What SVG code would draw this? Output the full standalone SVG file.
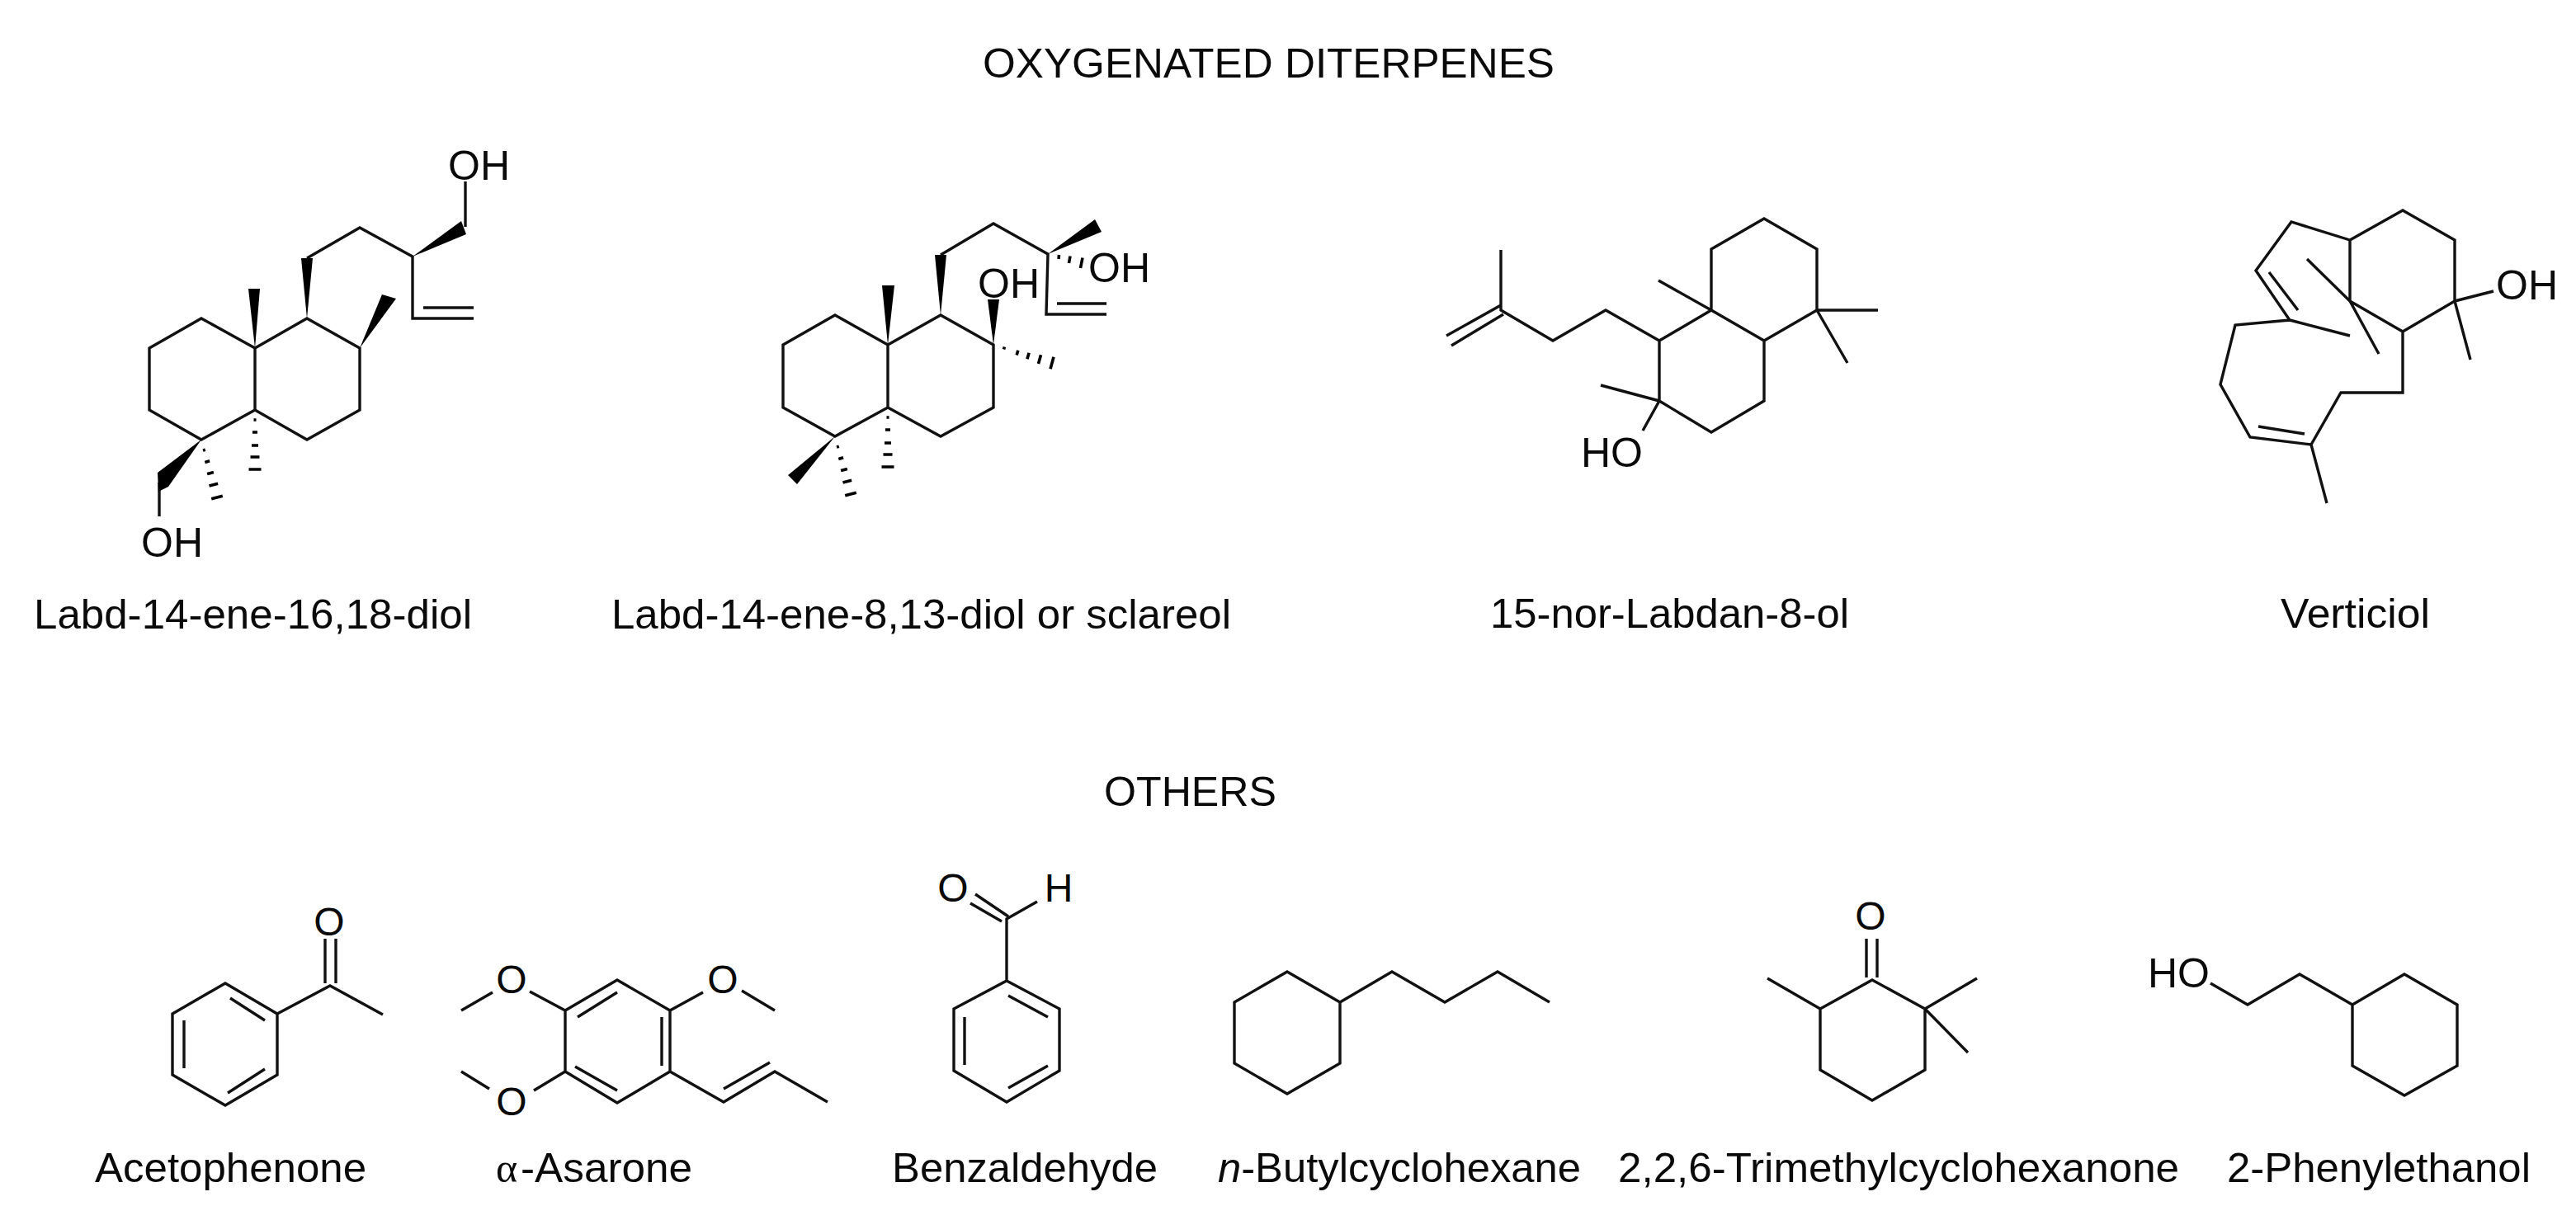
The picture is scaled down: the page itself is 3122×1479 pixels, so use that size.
<svg xmlns="http://www.w3.org/2000/svg" width="3122" height="1479" viewBox="0 0 3122 1479">
<style>
text{font-family:"Liberation Sans",Arial,sans-serif;fill:#0a0a0a}
.t{font-size:50px}
.a{font-size:50px}
.o{font-size:48px}
.b{fill:none;stroke:#111;stroke-width:3.4;stroke-linejoin:miter;stroke-linecap:butt}
.w{fill:#000;stroke:none}
.h{stroke:#000;stroke-width:3.6;fill:none}
</style>
<defs>
<g id="hashV" class="h"><path d="M-1.5 12H1.5M-3 27H3M-4 43H4M-5.5 57H5.5M-7.5 72H7.5"/></g>
<g id="hashD" class="h"><path d="M2 13L4.8 12.2M4.3 27.4L10.1 25.8M7.1 41.6L14.9 39.6M9.5 56L20.1 53.2M12.2 71.8L25.8 68.2"/></g>
</defs>
<rect width="3122" height="1479" fill="#fff"/>
<text id="title-diterpenes" class="t" x="1191" y="94" textLength="693" lengthAdjust="spacingAndGlyphs">OXYGENATED DITERPENES</text>
<text id="title-others" class="t" x="1338" y="977" textLength="209" lengthAdjust="spacingAndGlyphs">OTHERS</text>

<g id="labd-14-ene-16-18-diol">
<path class="b" d="M309 422L244 386L181 422V497L244 533L309 497V422L372 386L436 422V497L372 533L309 497M372 313L436 276L500 311V386H574M513 373H574M564 275V220M193 585V626"/>
<polygon class="w" points="309,422 301,350 315,350"/>
<polygon class="w" points="372,386 365,313 379,313"/>
<polygon class="w" points="500,311 559,268 565,284"/>
<polygon class="w" points="436,422 463,357 480,362"/>
<polygon class="w" points="244,533 191,573 192,596 204,590"/>
<use href="#hashV" x="309" y="497"/>
<use href="#hashD" x="244" y="533"/>
<text class="a" x="543" y="218">OH</text>
<text class="a" x="171" y="675">OH</text>
<text class="t" x="41" y="762" textLength="531" lengthAdjust="spacingAndGlyphs">Labd-14-ene-16,18-diol</text>
</g>

<g id="sclareol">
<path class="b" d="M1076 418L1012 382L949 418V494L1012 529L1076 494V418L1140 382L1204 418V494L1140 529L1076 494M1140 309L1204 271L1270 308L1268 381H1341M1281 368H1341"/>
<polygon class="w" points="1076,418 1069,346 1084,346"/>
<polygon class="w" points="1140,382 1133,309 1147,309"/>
<polygon class="w" points="1270,308 1327,266 1335,281"/>
<polygon class="w" points="1204,418 1197,363 1211,363"/>
<polygon class="w" points="1012,529 955,576 966,587"/>
<path class="h" d="M1283.5 309L1283 314M1297 310.5L1295.5 319M1312 312.5L1309.5 325M1217.4 420.6L1216.6 423.4M1233.8 424.8L1232.2 430.6M1247.1 427.7L1244.9 435.3M1261.5 430.3L1258.5 440.9M1277 432.8L1273 447.2"/>
<use href="#hashV" x="1076" y="494"/>
<use href="#hashD" x="1012" y="529"/>
<text class="a" x="1319" y="342">OH</text>
<text class="a" x="1185" y="361">OH</text>
<text class="t" x="741" y="762" textLength="751" lengthAdjust="spacingAndGlyphs">Labd-14-ene-8,13-diol or sclareol</text>
</g>

<g id="nor-labdan-8-ol">
<path class="b" d="M2138 265L2202 302V376L2138 413L2074 376V302ZM2138 413V486L2074 524L2011 486V413L2074 376L2010 340M2202 376H2276M2202 376L2239 440M2011 413L1946 376L1882 413L1819 376V303M1819 370L1753 407M1822 381L1759 419M2011 486L1940 467M2011 486L1991 522"/>
<text class="a" x="1916" y="566">HO</text>
<text class="t" x="1806" y="761" textLength="435" lengthAdjust="spacingAndGlyphs">15-nor-Labdan-8-ol</text>
</g>

<g id="verticiol">
<path class="b" d="M2848 291L2912 255L2975 291V365L2912 402L2848 365ZM2848 291L2777 269L2734 328L2775 388L2709 394L2691 466L2727 530L2801 539L2837 476H2912V402M2750 330L2785 376M2737 517L2793 526M2775 388L2848 407M2796 314L2848 365L2883 429M2975 365L3022 353M2975 365L2994 436M2801 539L2820 610"/>
<text class="a" x="3025" y="363">OH</text>
<text class="t" x="2764" y="761" textLength="181" lengthAdjust="spacingAndGlyphs">Verticiol</text>
</g>

<g id="acetophenone">
<path class="b" d="M273 1192L336 1229V1303L273 1340L209 1303V1229ZM321 1237L279 1210M223 1237V1295M321 1296L276 1325M336 1229L400 1195L464 1230M394 1192V1138M407 1192V1138"/>
<text class="o" x="399" y="1134" text-anchor="middle">O</text>
<text class="t" x="115" y="1433" textLength="329" lengthAdjust="spacingAndGlyphs">Acetophenone</text>
</g>

<g id="alpha-asarone">
<path class="b" d="M748 1188L812 1225V1299L748 1337L685 1299V1225ZM700 1233L748 1203M802 1233V1292M697 1293L748 1322M685 1225L642 1202M597 1203L559 1225M812 1225L852 1203M899 1201L939 1225M685 1299L647 1322M593 1320L559 1299M812 1299L877 1336L939 1299L1003 1336M877 1320L933 1288"/>
<text class="o" x="620" y="1204" text-anchor="middle">O</text>
<text class="o" x="876" y="1204" text-anchor="middle">O</text>
<text class="o" x="620" y="1352" text-anchor="middle">O</text>
<text x="601" y="1433" style="font-family:'Liberation Serif',serif;font-size:50px">α</text>
<text class="t" x="631" y="1433" textLength="208" lengthAdjust="spacingAndGlyphs">-Asarone</text>
</g>

<g id="benzaldehyde">
<path class="b" d="M1220 1189L1284 1223V1298L1220 1336L1156 1298V1223ZM1270 1233L1222 1207M1169 1233V1291M1270 1292L1222 1319M1220 1189V1114L1257 1093M1222 1111L1182 1084M1214 1117L1176 1095"/>
<text class="o" x="1155" y="1093" text-anchor="middle">O</text>
<text class="o" x="1283" y="1093" text-anchor="middle">H</text>
<text class="t" x="1081" y="1433" textLength="322" lengthAdjust="spacingAndGlyphs">Benzaldehyde</text>
</g>

<g id="n-butylcyclohexane">
<path class="b" d="M1560 1178L1624 1215V1289L1560 1326L1496 1289V1215ZM1624 1215L1687 1178L1751 1215L1815 1178L1878 1215"/>
<text class="t" x="1476" y="1433" textLength="440" lengthAdjust="spacingAndGlyphs"><tspan font-style="italic">n</tspan>-Butylcyclohexane</text>
</g>

<g id="trimethylcyclohexanone">
<path class="b" d="M2269 1188L2333 1223V1297L2269 1334L2206 1297V1223ZM2262 1185V1138M2275 1185V1138M2206 1223L2142 1186M2333 1223L2396 1186M2333 1223L2385 1276"/>
<text class="o" x="2267" y="1127" text-anchor="middle">O</text>
<text class="t" x="1961" y="1433" textLength="680" lengthAdjust="spacingAndGlyphs">2,2,6-Trimethylcyclohexanone</text>
</g>

<g id="phenylethanol">
<path class="b" d="M2914 1181L2978 1218V1292L2914 1328L2851 1292V1218ZM2851 1218L2787 1181L2724 1218L2679 1192"/>
<text class="a" x="2603" y="1197" textLength="75" lengthAdjust="spacingAndGlyphs">HO</text>
<text class="t" x="2699" y="1433" textLength="368" lengthAdjust="spacingAndGlyphs">2-Phenylethanol</text>
</g>
</svg>
